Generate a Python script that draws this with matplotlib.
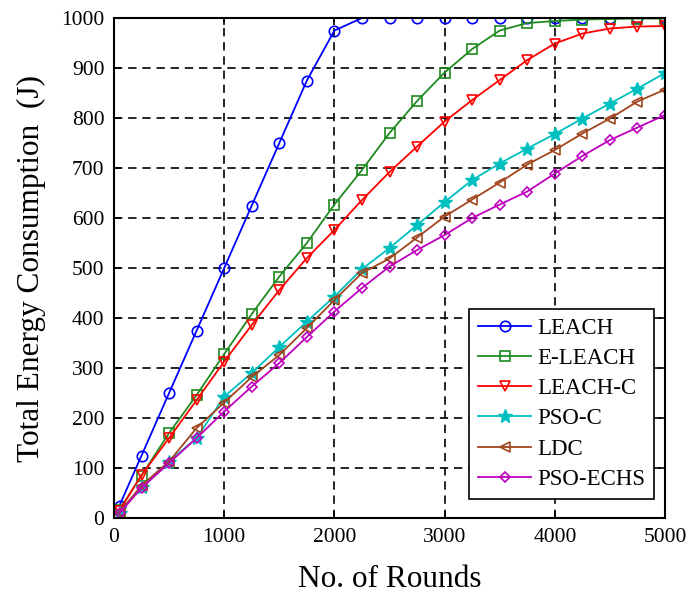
import numpy as np
import matplotlib
matplotlib.use('Agg')
import matplotlib.pyplot as plt

# rounds at which each protocol was sampled
rounds = [50, 250, 500, 750, 1000, 1250, 1500, 1750, 2000, 2250, 2500,
          2750, 3000, 3250, 3500, 3750, 4000, 4250, 4500, 4750, 5000]

leach = [25, 125, 250, 375, 500, 625, 750, 875, 975, 1000, 1000,
         1000, 1000, 1000, 1000, 1000, 1000, 1000, 1000, 1000, 1000]
e_leach = [17, 85, 170, 246, 328, 408, 483, 550, 627, 696, 770,
           834, 891, 938, 975, 990, 994, 997, 998, 999, 999]
leach_c = [15, 86, 160, 236, 313, 386, 456, 520, 576, 636, 692,
           743, 793, 836, 876, 916, 949, 969, 979, 983, 984]
pso_c = [10, 63, 113, 160, 243, 290, 342, 393, 443, 498, 540,
         586, 632, 676, 709, 739, 768, 799, 829, 859, 890]
ldc = [12, 65, 113, 180, 231, 282, 326, 380, 436, 490, 519,
       561, 603, 637, 671, 707, 736, 769, 799, 833, 857]
pso_echs = [10, 60, 110, 160, 213, 263, 310, 362, 413, 460, 503,
            536, 566, 600, 627, 653, 689, 724, 756, 781, 806]

series = [
    ('LEACH', leach, '#0000ff', 'o'),
    ('E-LEACH', e_leach, '#1f8a1f', 's'),
    ('LEACH-C', leach_c, '#ff0000', 'v'),
    ('PSO-C', pso_c, '#00bfbf', '*'),
    ('LDC', ldc, '#a0461e', '<'),
    ('PSO-ECHS', pso_echs, '#bf00bf', 'D'),
]

plt.rcParams['font.family'] = ['Liberation Serif', 'DejaVu Serif']

fig = plt.figure(figsize=(6.88, 5.95), dpi=100)
ax = fig.add_axes([0.1657, 0.1294, 0.8009, 0.8403])

for name, vals, col, mk in series:
    if mk == '*':
        ax.plot(rounds, vals, color=col, marker=mk, markersize=10,
                linewidth=1.3, label=name)
    else:
        ms = 5.5 if mk == 'D' else 7.5
        ax.plot(rounds, vals, color=col, marker=mk, markersize=ms,
                markerfacecolor='none', markeredgewidth=1.2,
                linewidth=1.3, label=name)

ax.set_xlim(0, 5000)
ax.set_ylim(0, 1000)
ax.set_xticks(np.arange(0, 5001, 1000))
ax.set_yticks(np.arange(0, 1001, 100))
ax.grid(True, color='black', linestyle=(0, (5, 3.5)), linewidth=1.2)
ax.tick_params(direction='in', top=True, right=True, labelsize=15.5,
               length=5, width=1.2, pad=7)
for sp in ax.spines.values():
    sp.set_linewidth(1.5)

ax.set_xlabel('No. of Rounds', fontsize=22.5, labelpad=13)
ax.set_ylabel('Total Energy Consumption  (J)', fontsize=22.5, labelpad=11)

leg = ax.legend(loc='lower right', bbox_to_anchor=(0.98, 0.038),
                borderaxespad=0, fontsize=16.5, frameon=True, fancybox=False,
                edgecolor='black', framealpha=1, handlelength=2.3,
                handletextpad=0.25, borderpad=0.4, labelspacing=0.4)
leg.get_frame().set_linewidth(1.2)

fig.savefig('out.png', dpi=100)
